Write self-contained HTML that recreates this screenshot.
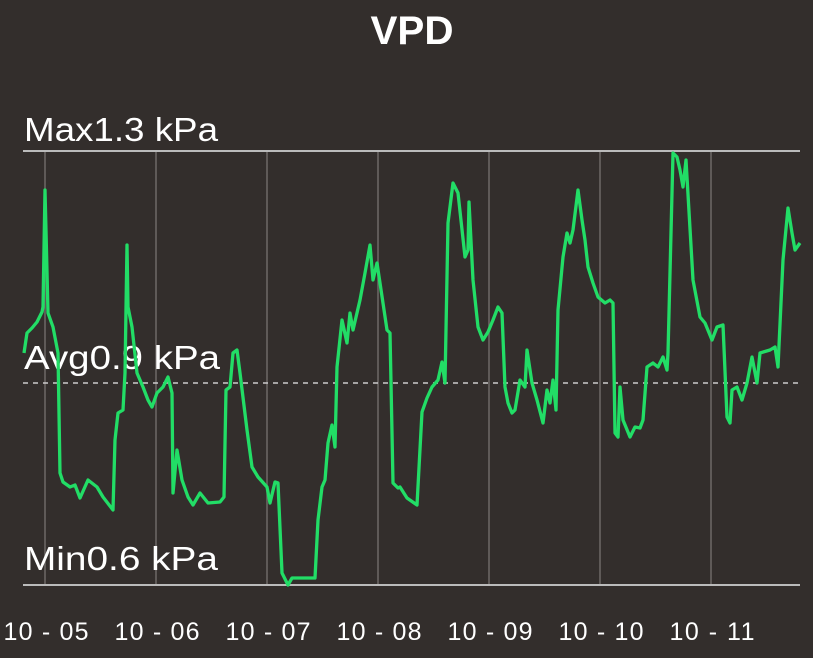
<!DOCTYPE html>
<html><head><meta charset="utf-8"><style>
html,body{margin:0;padding:0;background:#332e2c;}
svg{display:block;}
</style></head><body>
<svg width="813" height="658" xmlns="http://www.w3.org/2000/svg" font-family="Liberation Sans, sans-serif">
<rect width="813" height="658" fill="#332e2c"/>
<text x="412" y="44" text-anchor="middle" font-size="40" font-weight="bold" fill="#fff" textLength="83" lengthAdjust="spacingAndGlyphs">VPD</text>
<g stroke="#6e6966" stroke-width="1.5">
<line x1="45" y1="151" x2="45" y2="585"/><line x1="156" y1="151" x2="156" y2="585"/>
<line x1="267" y1="151" x2="267" y2="585"/><line x1="378" y1="151" x2="378" y2="585"/>
<line x1="489" y1="151" x2="489" y2="585"/><line x1="600" y1="151" x2="600" y2="585"/>
<line x1="711" y1="151" x2="711" y2="585"/>
</g>
<line x1="23" y1="151" x2="800" y2="151" stroke="#bbb" stroke-width="2"/>
<line x1="23" y1="585" x2="800" y2="585" stroke="#bbb" stroke-width="2"/>
<line x1="23" y1="383" x2="800" y2="383" stroke="#ccc" stroke-width="1.5" stroke-dasharray="5,5"/>
<g font-size="33" fill="#fff">
<text x="24" y="141" textLength="194" lengthAdjust="spacingAndGlyphs">Max1.3 kPa</text>
<text x="24" y="369" textLength="196" lengthAdjust="spacingAndGlyphs">Avg0.9 kPa</text>
<text x="24" y="570" textLength="194" lengthAdjust="spacingAndGlyphs">Min0.6 kPa</text>
</g>
<g font-size="25" fill="#fff" text-anchor="middle" lengthAdjust="spacingAndGlyphs">
<text x="46" y="640" textLength="85">10 - 05</text><text x="157" y="640" textLength="85">10 - 06</text>
<text x="268" y="640" textLength="85">10 - 07</text><text x="379" y="640" textLength="85">10 - 08</text>
<text x="490" y="640" textLength="85">10 - 09</text><text x="601" y="640" textLength="85">10 - 10</text>
<text x="712" y="640" textLength="85">10 - 11</text>
</g>
<polyline fill="none" stroke="#22dd66" stroke-width="3.3" stroke-linejoin="round" points="24,353 27,333 32,328 37,322 42,312 43,307 45,190 48,313 53,327 58,353 60,473 63,482 70,487 75,485 80,498 88,480 97,487 103,497 113,510 115,440 118,413 123,410 125,373 127,245 128,307 132,327 137,373 143,387 148,400 152,407 157,393 163,387 168,377 172,393 173,493 177,450 182,480 188,497 193,505 200,493 208,503 220,502 224,497 226,390 230,387 233,353 237,350 240,373 247,430 252,467 258,477 267,487 270,503 275,482 278,483 282,573 288,585 292,578 315,578 318,520 322,487 325,480 328,443 332,425 335,447 337,367 342,320 347,343 350,313 353,330 360,300 365,273 370,245 373,280 377,263 380,283 387,330 390,333 393,483 398,488 400,487 407,498 417,505 422,412 427,398 432,387 438,380 442,362 445,383 448,223 453,183 458,193 465,257 468,250 469,202 473,280 478,327 483,340 488,332 493,320 498,307 502,313 505,387 508,403 512,413 515,410 520,380 525,387 527,350 532,383 537,400 543,423 547,390 550,403 553,380 556,410 558,310 563,257 567,233 570,243 573,230 578,190 582,220 585,240 588,267 593,283 598,297 605,303 610,300 613,303 615,433 618,437 620,387 623,420 630,437 635,427 640,428 643,420 647,367 653,363 658,367 663,357 667,370 668,353 673,153 677,157 680,170 683,187 686,160 693,280 700,317 705,323 712,340 717,327 723,325 727,417 730,423 732,390 737,387 742,400 747,383 752,357 757,383 760,353 770,350 775,347 778,367 783,260 788,208 792,233 795,250 800,243"/>
</svg>
</body></html>
